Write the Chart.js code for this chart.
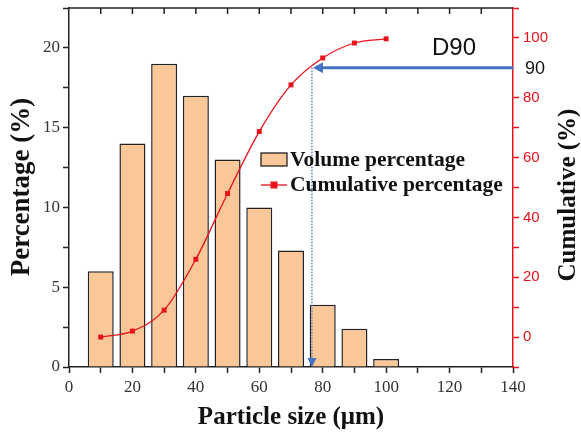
<!DOCTYPE html>
<html>
<head>
<meta charset="utf-8">
<script src="https://cdn.jsdelivr.net/npm/chart.js@4/dist/chart.umd.min.js"></script>
<style>
  body { margin: 0; background: #fff; }
  #wrap { width: 581px; height: 438px; position: relative; }
</style>
</head>
<body>
<div id="wrap"><canvas id="grafico"></canvas></div>
<script>
// datos
const tamanos = [10, 20, 30, 40, 50, 60, 70, 80, 90, 100];
const volumen = [6, 14, 19, 17, 13, 10, 7.3, 3.9, 2.4, 0.5];
const acumulado = [0, 2, 9, 26, 48, 68.7, 84.3, 93.3, 98.3, 99.7];
const ticksX = [0, 20, 40, 60, 80, 100, 120, 140];
const ticksIzq = [0, 5, 10, 15, 20];
const ticksDer = [0, 20, 40, 60, 80, 100];
const d90Tamano = 76.6;
const d90Valor = 90;

const naranja = '#FAC898';
const rojo = '#E8121B';
const azul = '#4472C4';

// dibuja titulos, leyenda, borde superior y la flecha D90
const extras = {
    id: 'extras',
    afterDatasetsDraw(chart) {
        const ctx = chart.ctx;
        const a = chart.chartArea;
        const sx = chart.scales.x;
        const sy2 = chart.scales.y2;
        ctx.save();

        // borde superior con ticks hacia dentro
        ctx.strokeStyle = '#222';
        ctx.lineWidth = 1.5;
        ctx.beginPath();
        ctx.moveTo(a.left, a.top);
        ctx.lineTo(a.right, a.top);
        for (let v = 10; v < 140; v += 10) {
            const px = sx.getPixelForValue(v);
            ctx.moveTo(px, a.top);
            ctx.lineTo(px, a.top + 6);
        }
        ctx.stroke();

        // linea vertical punteada D90
        const xd = sx.getPixelForValue(d90Tamano);
        const yd = sy2.getPixelForValue(d90Valor);
        ctx.strokeStyle = azul;
        ctx.lineWidth = 1.3;
        ctx.setLineDash([1.5, 1.5]);
        ctx.beginPath();
        ctx.moveTo(xd, yd);
        ctx.lineTo(xd, a.bottom - 6);
        ctx.stroke();
        ctx.setLineDash([]);
        ctx.fillStyle = azul;
        ctx.beginPath();
        ctx.moveTo(xd, a.bottom);
        ctx.lineTo(xd - 4.5, a.bottom - 9);
        ctx.lineTo(xd + 4.5, a.bottom - 9);
        ctx.closePath();
        ctx.fill();

        // flecha horizontal
        ctx.lineWidth = 3;
        ctx.beginPath();
        ctx.moveTo(a.right, yd);
        ctx.lineTo(xd + 8, yd);
        ctx.stroke();
        ctx.beginPath();
        ctx.moveTo(xd + 1, yd);
        ctx.lineTo(xd + 11, yd - 5.5);
        ctx.lineTo(xd + 11, yd + 5.5);
        ctx.closePath();
        ctx.fill();

        // textos D90 y 90
        ctx.fillStyle = '#111';
        ctx.font = '24px "Liberation Sans"';
        ctx.textBaseline = 'middle';
        ctx.textAlign = 'left';
        ctx.fillText('D90', 432, 48);
        ctx.font = '18px "Liberation Sans"';
        ctx.fillText('90', a.right + 12, yd + 1);

        // leyenda
        ctx.fillStyle = naranja;
        ctx.strokeStyle = '#222';
        ctx.lineWidth = 1.3;
        ctx.fillRect(261, 153, 26, 13);
        ctx.strokeRect(261, 153, 26, 13);
        ctx.strokeStyle = rojo;
        ctx.lineWidth = 1.3;
        ctx.beginPath();
        ctx.moveTo(261, 185);
        ctx.lineTo(287, 185);
        ctx.stroke();
        ctx.fillStyle = rojo;
        ctx.fillRect(270.5, 181.5, 7, 7);
        ctx.fillStyle = '#111';
        ctx.font = 'bold 21.5px "Liberation Serif"';
        ctx.fillText('Volume percentage', 290, 160);
        ctx.fillText('Cumulative percentage', 290, 185);

        // titulos de ejes
        ctx.textAlign = 'center';
        ctx.font = 'bold 25px "Liberation Serif"';
        ctx.fillText('Particle size (\u03bcm)', (a.left + a.right) / 2, 418);
        ctx.save();
        ctx.translate(22, 187);
        ctx.rotate(-Math.PI / 2);
        ctx.font = 'bold 27px "Liberation Serif"';
        ctx.fillText('Percentage (%)', 0, 0);
        ctx.restore();
        ctx.save();
        ctx.translate(569, 195);
        ctx.rotate(-Math.PI / 2);
        ctx.font = 'bold 25px "Liberation Serif"';
        ctx.fillText('Cumulative (%)', 0, 0);
        ctx.restore();

        ctx.restore();
    }
};

function generarGrafico() {
    const ctx = document.getElementById('grafico').getContext('2d');
    new Chart(ctx, {
        type: 'bar',
        data: {
            datasets: [{
                type: 'line',
                label: 'Cumulative percentage',
                data: tamanos.map((t, i) => ({ x: t, y: acumulado[i] })),
                yAxisID: 'y2',
                borderColor: rojo,
                backgroundColor: rojo,
                borderWidth: 1.3,
                pointStyle: 'rect',
                pointRadius: 3.5,
                pointBackgroundColor: rojo,
                pointBorderWidth: 0,
                cubicInterpolationMode: 'monotone',
                order: 0
            }, {
                label: 'Volume percentage',
                data: tamanos.map((t, i) => ({ x: t, y: volumen[i] })),
                yAxisID: 'y',
                backgroundColor: naranja,
                borderColor: '#222',
                borderWidth: 1.5,
                barPercentage: 0.82,
                categoryPercentage: 1.0,
                order: 1
            }]
        },
        options: {
            responsive: true,
            maintainAspectRatio: false,
            animation: false,
            layout: { padding: { top: 8 } },
            plugins: {
                legend: { display: false },
                tooltip: { enabled: false }
            },
            scales: {
                x: {
                    type: 'linear',
                    offset: false,
                    min: 0,
                    max: 140,
                    afterFit: s => { s.height = 71; s.paddingLeft = 0; s.paddingRight = 0; },
                    grid: { offset: false, drawOnChartArea: false, tickLength: 6, tickColor: '#222', tickWidth: 1.5 },
                    border: { color: '#222', width: 1.5 },
                    afterBuildTicks: s => { s.ticks = []; for (let v = 0; v <= 140; v += 10) s.ticks.push({ value: v }); },
                    ticks: {
                        autoSkip: false,
                        maxRotation: 0,
                        padding: 4,
                        color: '#333',
                        font: { family: 'Liberation Serif', size: 17 },
                        callback: v => ticksX.includes(v) ? String(v) : ''
                    }
                },
                y: {
                    position: 'left',
                    min: 0,
                    max: 22.5,
                    afterFit: s => { s.width = 69; s.paddingTop = 0; s.paddingBottom = 0; },
                    grid: { drawOnChartArea: false, tickLength: 6, tickColor: '#222', tickWidth: 1.5 },
                    border: { color: '#222', width: 1.5 },
                    afterBuildTicks: s => { s.ticks = []; for (let v = 0; v <= 22.5; v += 2.5) s.ticks.push({ value: v }); },
                    ticks: {
                        autoSkip: false,
                        padding: 3,
                        color: '#333',
                        font: { family: 'Liberation Serif', size: 17 },
                        callback: v => ticksIzq.includes(v) ? String(v) : ''
                    }
                },
                y2: {
                    position: 'right',
                    min: -10,
                    max: 110,
                    afterFit: s => { s.width = 68; s.paddingTop = 0; s.paddingBottom = 0; },
                    grid: { drawOnChartArea: false, tickLength: 6, tickColor: rojo, tickWidth: 1.5 },
                    border: { color: rojo, width: 1.5 },
                    afterBuildTicks: s => { s.ticks = []; for (let v = -10; v <= 110; v += 10) if (v !== 90) s.ticks.push({ value: v }); },
                    ticks: {
                        autoSkip: false,
                        padding: 4,
                        color: rojo,
                        font: { family: 'Liberation Sans', size: 15 },
                        callback: v => ticksDer.includes(v) ? String(v) : ''
                    }
                }
            }
        },
        plugins: [extras]
    });
}

window.onload = generarGrafico;
</script>
</body>
</html>
